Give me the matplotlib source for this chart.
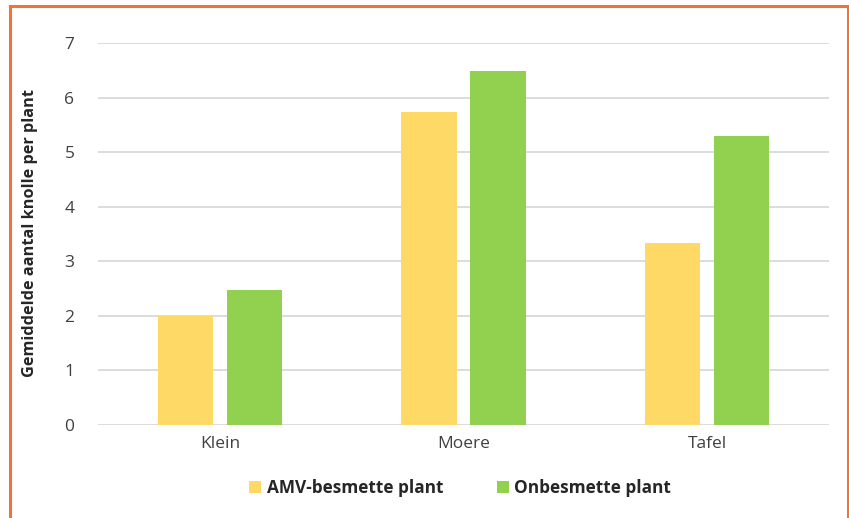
import matplotlib
matplotlib.use("Agg")
import matplotlib.pyplot as plt
from matplotlib.patches import Rectangle
import numpy as np

categories = ["Klein", "Moere", "Tafel"]
amv_besmet = [2.00, 5.74, 3.33]
onbesmet = [2.48, 6.48, 5.30]
series_labels = ["AMV-besmette plant", "Onbesmette plant"]
y_ticks = [0, 1, 2, 3, 4, 5, 6, 7]
y_label = "Gemiddelde aantal knolle per plant"

plt.rcParams["font.family"] = ["Open Sans", "DejaVu Sans"]

W, H = 849, 518
fig = plt.figure(figsize=(W / 100, H / 100), dpi=100)
ax = fig.add_axes([98 / W, 1 - 425 / H, (829 - 98) / W, (425 - 43) / H])

x = np.arange(len(categories))
bw = 0.226
off = 0.1416
ax.bar(x - off, amv_besmet, bw, color="#FFD966", label=series_labels[0], zorder=3)
ax.bar(x + off, onbesmet, bw, color="#92D050", label=series_labels[1], zorder=3)

ax.set_xlim(-0.5, len(categories) - 0.5)
ax.set_ylim(0, 7)
ax.set_yticks(y_ticks)
ax.set_xticks(x)
ax.set_xticklabels(categories)
ax.yaxis.grid(True, color="#D9D9D9", linewidth=1.3, zorder=0)
ax.set_axisbelow(True)
for s in ax.spines.values():
    s.set_visible(False)
ax.tick_params(length=0, labelsize=12.5, labelcolor="#404040")
ax.tick_params(axis="y", pad=17)
ax.tick_params(axis="x", pad=8)

fig.text(30 / W, 1 - 233 / H, y_label, rotation=90, ha="center", va="center",
         fontsize=11.7, fontweight="bold", color="#262626")

leg = fig.legend(loc="center", bbox_to_anchor=(460 / W, 1 - 488 / H), ncol=2,
                 frameon=False, handlelength=0.7, handleheight=0.7,
                 handletextpad=0.3, columnspacing=3.1,
                 prop={"size": 12.4, "weight": "bold"})
for t in leg.get_texts():
    t.set_color("#262626")

# Orange frame around the figure
fig.patches.append(Rectangle((9.5 / W, -0.05), (847.5 - 9.5) / W, 1.05 - 5.5 / H,
                             transform=fig.transFigure, fill=False,
                             edgecolor="#F37235", linewidth=2.2))

fig.savefig("out.png", dpi=100, facecolor="white")
